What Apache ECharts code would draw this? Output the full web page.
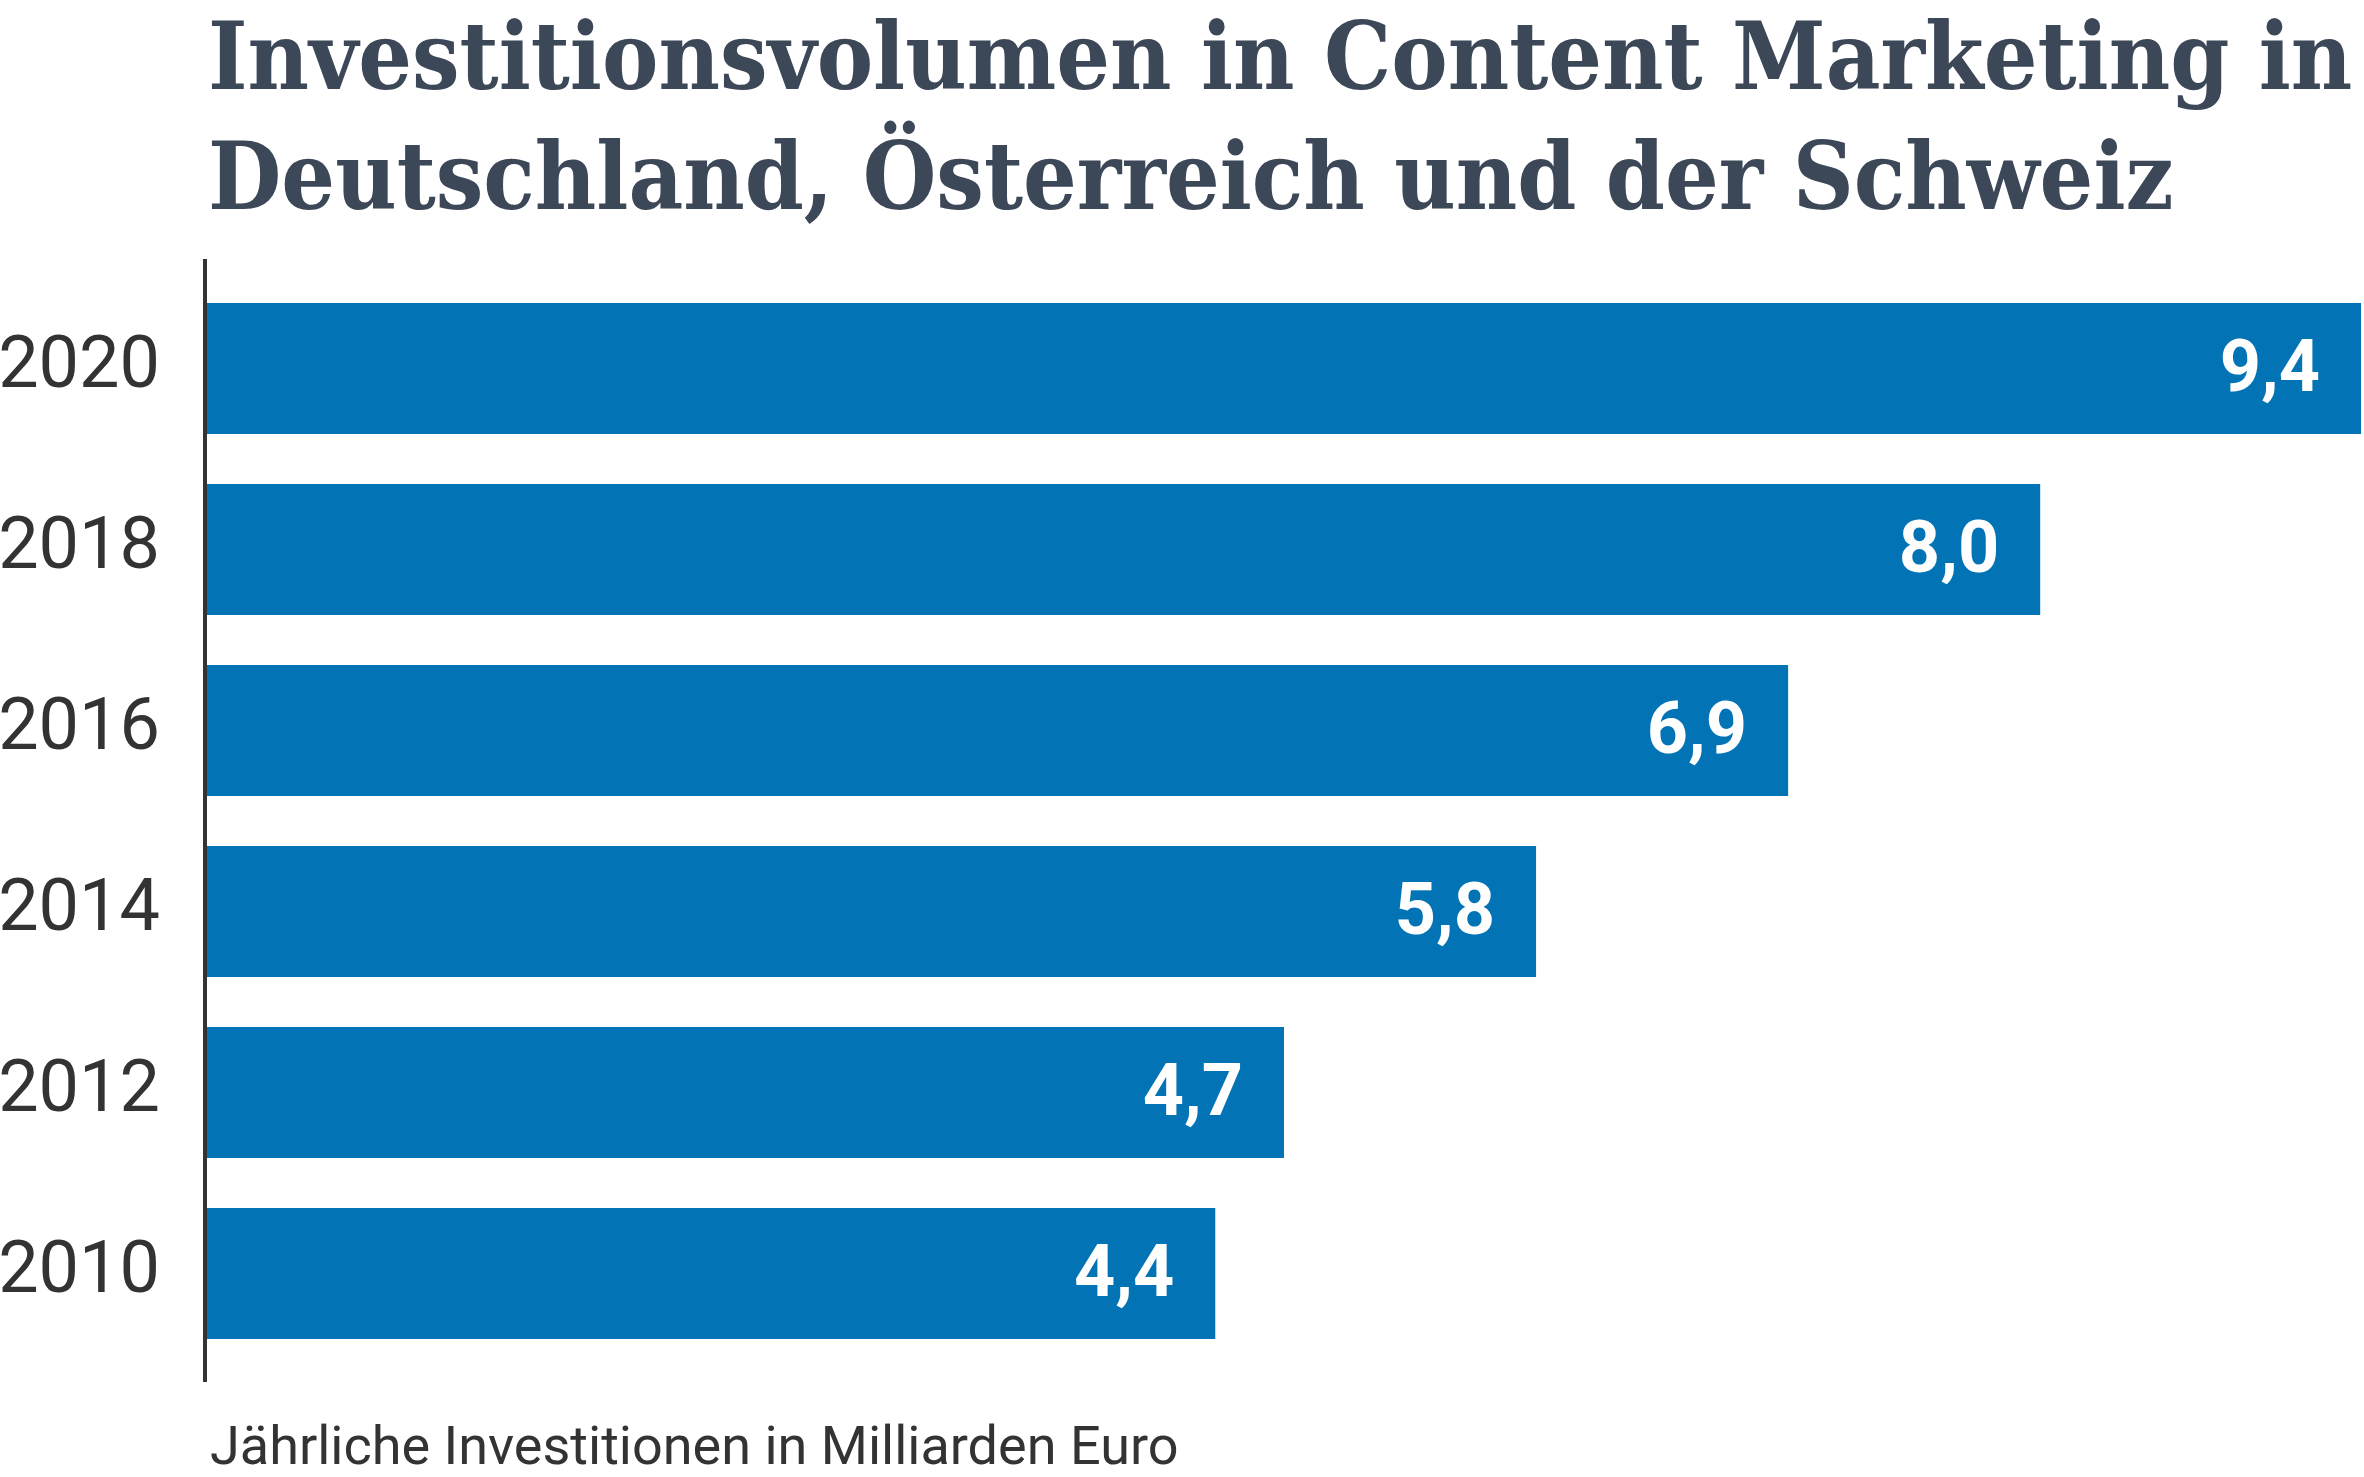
<!DOCTYPE html>
<html>
<head>
<meta charset="utf-8">
<script src="https://cdn.jsdelivr.net/npm/echarts@6/dist/echarts.min.js"></script>
<style>
    html, body { margin: 0; padding: 0; background: #fff; }
    #chart { width: 2364px; height: 1477px; }
</style>
</head>
<body>
<div id="chart"></div>
<script>
    /*----------  data  ----------*/
    var years = ['2010', '2012', '2014', '2016', '2018', '2020'];
    var values = [4.4, 4.7, 5.8, 6.9, 8.0, 9.4];

    var titleText = 'Investitionsvolumen in Content Marketing in\nDeutschland, Österreich und der Schweiz';
    var footerText = 'Jährliche Investitionen in Milliarden Euro';

    var chart = echarts.init(document.getElementById('chart'), null, { renderer: 'canvas' });

    var option = {
        backgroundColor: '#ffffff',
        animation: false,
        title: [{
            text: titleText,
            left: 203,
            top: 0,
            textStyle: {
                fontFamily: "'Roboto Slab', 'DejaVu Serif Condensed', 'DejaVu Serif', serif",
                fontWeight: 'bold',
                fontSize: 94,
                lineHeight: 120,
                color: '#3c4757'
            }
        }, {
            text: footerText,
            left: 205,
            top: 1418,
            textStyle: {
                fontFamily: 'Roboto, sans-serif',
                fontWeight: 'normal',
                fontSize: 54,
                color: '#333333'
            }
        }],
        grid: {
            left: 207,
            right: 3,
            top: 278,
            bottom: 113,
            containLabel: false,
            outerBoundsMode: 'none'
        },
        xAxis: {
            type: 'value',
            min: 0,
            max: 9.4,
            show: false
        },
        yAxis: {
            type: 'category',
            data: years,
            axisLine: { show: false },
            axisTick: { show: false },
            axisLabel: {
                margin: 47,
                fontFamily: 'Roboto, sans-serif',
                fontSize: 72,
                color: '#333333'
            }
        },
        series: [{
            type: 'bar',
            data: values,
            barWidth: 131,
            itemStyle: { color: '#0273b4' },
            label: {
                show: true,
                position: 'insideRight',
                distance: 41,
                offset: [0, 4],
                fontFamily: 'Roboto, sans-serif',
                fontWeight: 'bold',
                fontSize: 72,
                color: '#ffffff',
                formatter: function (p) {
                    return p.value.toFixed(1).replace('.', ',');
                }
            }
        }],
        graphic: [{
            type: 'line',
            shape: { x1: 205, y1: 259, x2: 205, y2: 1382 },
            style: { stroke: '#333333', lineWidth: 4 },
            z: 10
        }]
    };

    chart.setOption(option);
</script>
</body>
</html>
